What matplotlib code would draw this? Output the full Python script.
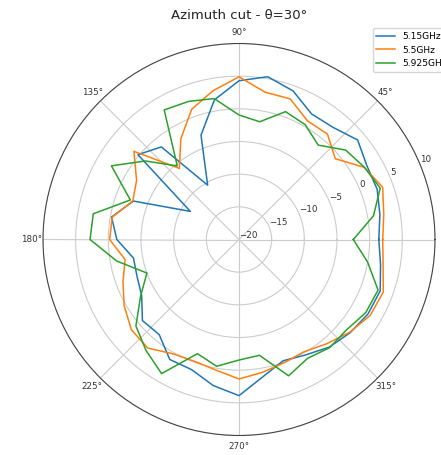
import numpy as np
import matplotlib
matplotlib.use("Agg")
import matplotlib.pyplot as plt

# azimuth angles (deg), 10 deg steps
angles = list(range(0, 360, 10))

# gain (dB) per frequency
g_515 = [1.4, 1.9, 2.5, 2.6, 3.7, 2.4, 2.2, 4.2, 5.3, 4.3,
         1.7, -3.0, -10.4, -1.5, 0.2, -11.4, -2.8, -0.2,
         -1.3, -3.6, -3.4, -2.8, -0.7, -1.0, 1.2, 1.2, 2.7,
         3.9, 1.3, -0.25, 0.4, 1.5, 2.2, 2.8, 3.0, 2.0]
g_55 = [2.0, 2.5, 3.4, 2.1, -0.76, 1.06, 0.97, 2.9, 2.9, 4.9,
        3.1, 1.2, -2.2, -5.8, 1.0, -1.9, -2.7, -0.3,
        -0.2, -2.3, -1.1, 0.3, 1.5, 1.7, 0.2, -0.15, 0.3,
        1.35, 0.65, 0.1, -0.15, 0.85, 2.1, 3.2, 3.5, 2.4]
g_5925 = [-2.5, 0.9, 3.0, 2.15, 1.3, -1.14, 0.28, 0.83, -1.7, -0.94,
          1.9, 2.5, 2.9, -5.3, -1.3, 2.55, -2.3, 2.65,
          2.8, -1.0, -5.0, -2.6, 0.6, 2.15, 3.7, -1.4, -0.3,
          -1.55, -2.0, 2.2, 1.0, 1.6, 1.5, 2.4, 2.65, 0.0]

labels = ["5.15GHz", "5.5GHz", "5.925GHz"]

fig = plt.figure(figsize=(4.41, 4.55), dpi=100)
ax = fig.add_axes([43/441, 19.5/455, 392/441, 392/455], projection="polar")

th = np.deg2rad(angles + [angles[0]])
for g, lab in zip([g_515, g_55, g_5925], labels):
    ax.plot(th, g + [g[0]], lw=1.1, label=lab)

ax.set_rlim(-20, 10)
ax.set_rticks([-20, -15, -10, -5, 0, 5, 10])
ax.tick_params(labelsize=6.3, colors="#333333")
ax.tick_params(axis="x", pad=-2.3)
ax.grid(color="#cccccc", lw=0.8)
ax.spines["polar"].set_color("#444444")

ax.set_title("Azimuth cut - θ=30°", fontsize=9.5, color="#222222", y=1.062, pad=0)

# legend sits at the right edge, partly cut off like the source image
fig.legend(loc="upper left", bbox_to_anchor=(372.7/441, 1 - 28.3/455),
           borderaxespad=0, fontsize=6.6)

plt.savefig("out.png", dpi=100)
